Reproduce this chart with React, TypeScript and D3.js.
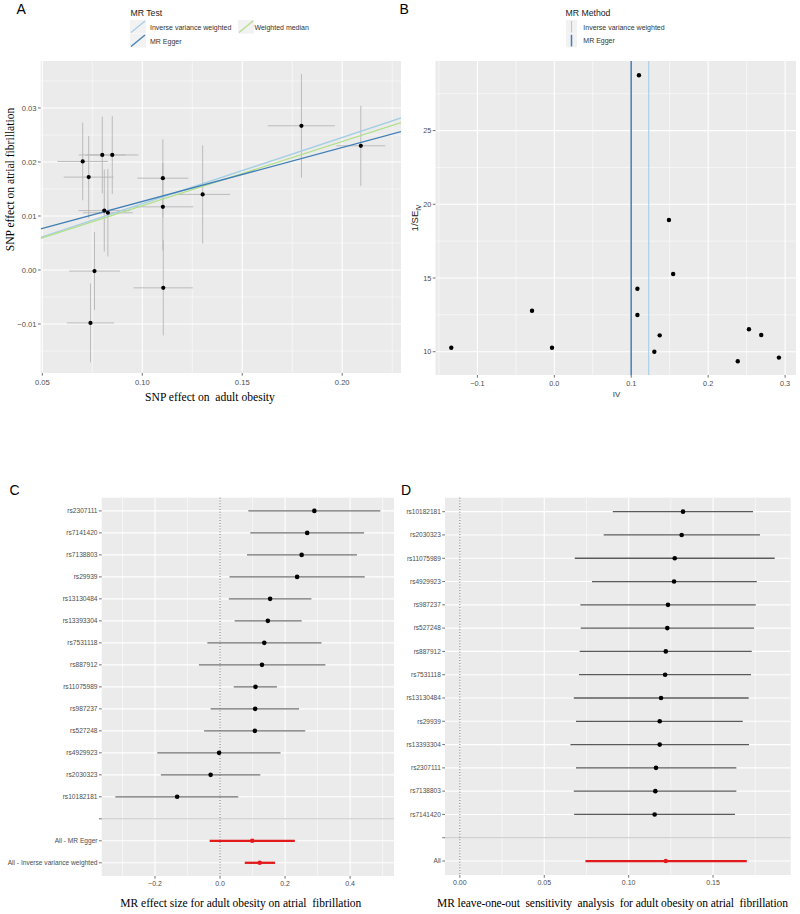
import React from 'react';
import * as d3 from 'd3';

// ---------------- Panel A: scatter (SNP effects) ----------------
const aBetaExp = [0.0702, 0.0732, 0.0800, 0.0850, 0.1103, 0.1302, 0.1796, 0.2093, 0.0810, 0.0828, 0.1103, 0.0761, 0.1105, 0.0741];
const aSeExp = [0.0126, 0.0125, 0.0118, 0.0130, 0.0127, 0.0137, 0.0168, 0.0122, 0.0129, 0.0125, 0.0152, 0.0127, 0.0148, 0.0118];
const aBetaOut = [0.0201, 0.0172, 0.0213, 0.0213, 0.0170, 0.0140, 0.0267, 0.0230, 0.0110, 0.0106, 0.0117, -0.0002, -0.0033, -0.0098];
const aSeOut = [0.0072, 0.0076, 0.0071, 0.0072, 0.0072, 0.0091, 0.0096, 0.0074, 0.0076, 0.0081, 0.0081, 0.0072, 0.0088, 0.0073];
const aMethods = ['Inverse variance weighted', 'MR Egger', 'Weighted median'];
const aSlopes = [0.1227, 0.0999, 0.119];
const aIntercepts = [0, 0.0027, 0];
const aColors = ['#A6CEE3', '#3F7FB6', '#B2DF8A'];
const aXTicks = [0.05, 0.10, 0.15, 0.20];
const aXMinor = [0.075, 0.125, 0.175, 0.225];
const aYTicks = [-0.01, 0.0, 0.01, 0.02, 0.03];
const aYMinor = [-0.015, -0.005, 0.005, 0.015, 0.025, 0.035];

// ---------------- Panel B: funnel ----------------
const bIV = [-0.134, -0.029, -0.003, 0.108, 0.108, 0.130, 0.137, 0.149, 0.1545, 0.2385, 0.253, 0.269, 0.292, 0.110];
const bInvSE = [10.27, 12.78, 10.27, 14.27, 12.49, 10.0, 11.11, 18.93, 15.27, 9.35, 11.52, 11.13, 9.6, 28.75];
const bMethods = ['Inverse variance weighted', 'MR Egger'];
const bEstimates = [0.1227, 0.0999];
const bColors = ['#A6CEE3', '#3F7FB6'];
const bXTicks = [-0.1, 0.0, 0.1, 0.2, 0.3];
const bXMinor = [-0.15, -0.05, 0.05, 0.15, 0.25];
const bYTicks = [10, 15, 20, 25];
const bYMinor = [12.5, 17.5, 22.5, 27.5];

// ---------------- Panel C: forest ----------------
const cSnps = ['rs2307111', 'rs7141420', 'rs7138803', 'rs29939', 'rs13130484', 'rs13393304', 'rs7531118', 'rs887912', 'rs11075989', 'rs987237', 'rs527248', 'rs4929923', 'rs2030323', 'rs10182181'];
const cB = [0.290, 0.268, 0.251, 0.237, 0.154, 0.147, 0.136, 0.129, 0.109, 0.108, 0.107, -0.003, -0.029, -0.132];
const cLo = [0.087, 0.093, 0.083, 0.029, 0.027, 0.045, -0.039, -0.065, 0.042, -0.029, -0.049, -0.193, -0.182, -0.322];
const cHi = [0.493, 0.443, 0.421, 0.445, 0.281, 0.251, 0.312, 0.324, 0.175, 0.243, 0.262, 0.186, 0.124, 0.056];
const cAll = ['All - MR Egger', 'All - Inverse variance weighted'];
const cAllB = [0.099, 0.122];
const cAllLo = [-0.032, 0.076];
const cAllHi = [0.230, 0.169];
const cXTicks = [-0.2, 0.0, 0.2, 0.4];
const cXMinor = [-0.3, -0.1, 0.1, 0.3, 0.5];

// ---------------- Panel D: leave-one-out ----------------
const dSnps = ['rs10182181', 'rs2030323', 'rs11075989', 'rs4929923', 'rs987237', 'rs527248', 'rs887912', 'rs7531118', 'rs13130484', 'rs29939', 'rs13393304', 'rs2307111', 'rs7138803', 'rs7141420'];
const dB = [0.1322, 0.1314, 0.1273, 0.1269, 0.1233, 0.1229, 0.1220, 0.1216, 0.1192, 0.1184, 0.1184, 0.1162, 0.1158, 0.1154];
const dLo = [0.0906, 0.0852, 0.0681, 0.0783, 0.0714, 0.0716, 0.0710, 0.0706, 0.0675, 0.0688, 0.0655, 0.0688, 0.0675, 0.0677];
const dHi = [0.1737, 0.1778, 0.1865, 0.1759, 0.1753, 0.1743, 0.1729, 0.1725, 0.1711, 0.1676, 0.1713, 0.1638, 0.1638, 0.1630];
const dAll = ['All'];
const dAllB = [0.1220];
const dAllLo = [0.0744];
const dAllHi = [0.1700];
const dXTicks = [0.0, 0.05, 0.10, 0.15];
const dXMinor = [0.025, 0.075, 0.125, 0.175];

// ---------------- styles ----------------
const SANS = '"Liberation Sans", Arial, Helvetica, sans-serif';
const SERIF = '"Liberation Serif", "Times New Roman", Times, serif';
const BG = '#EBEBEB';
const TXT = '#4D4D4D';
const TICK = '#333333';

type Box = { l: number; r: number; t: number; b: number };

function Grid({ box, xs, ys, xMajor, xMinor, yMajor, yMinor }: any) {
  return (
    <g>
      <rect x={box.l} y={box.t} width={box.r - box.l} height={box.b - box.t} fill={BG} />
      {xMinor.map((v: number, i: number) => {
        const p = xs(v);
        if (p < box.l || p > box.r) return null;
        return <line key={'xm' + i} x1={p} x2={p} y1={box.t} y2={box.b} stroke="#fff" strokeWidth={0.55} />;
      })}
      {yMinor.map((v: number, i: number) => {
        const p = ys(v);
        if (p < box.t || p > box.b) return null;
        return <line key={'ym' + i} y1={p} y2={p} x1={box.l} x2={box.r} stroke="#fff" strokeWidth={0.55} />;
      })}
      {xMajor.map((v: number, i: number) => (
        <line key={'xM' + i} x1={xs(v)} x2={xs(v)} y1={box.t} y2={box.b} stroke="#fff" strokeWidth={1.1} />
      ))}
      {yMajor.map((v: any, i: number) => (
        <line key={'yM' + i} y1={ys(v)} y2={ys(v)} x1={box.l} x2={box.r} stroke="#fff" strokeWidth={1.1} />
      ))}
    </g>
  );
}

function XAxis({ box, xs, ticks, fmt, size, dy }: any) {
  return (
    <g>
      {ticks.map((v: number, i: number) => (
        <g key={i}>
          <line x1={xs(v)} x2={xs(v)} y1={box.b} y2={box.b + 2.7} stroke={TICK} strokeWidth={0.7} />
          <text x={xs(v)} y={box.b + dy} fontSize={size} fontFamily={SANS} fill={TXT} textAnchor="middle">{fmt(v)}</text>
        </g>
      ))}
    </g>
  );
}

function YAxis({ box, ys, ticks, fmt, size }: any) {
  return (
    <g>
      {ticks.map((v: any, i: number) => (
        <g key={i}>
          <line x1={box.l - 2.7} x2={box.l} y1={ys(v)} y2={ys(v)} stroke={TICK} strokeWidth={0.7} />
          <text x={box.l - 4.2} y={ys(v) + size * 0.35} fontSize={size} fontFamily={SANS} fill={TXT} textAnchor="end">{fmt(v)}</text>
        </g>
      ))}
    </g>
  );
}

function PanelA() {
  const box: Box = { l: 40.7, r: 401, t: 61, b: 373 };
  const xs = d3.scaleLinear().domain([0.0492, 0.2294]).range([box.l, box.r]);
  const ys = d3.scaleLinear().domain([-0.01907, 0.0387]).range([box.b, box.t]);
  const fx = d3.format('.2f');
  const [x0, x1] = xs.domain();
  return (
    <g>
      <Grid box={box} xs={xs} ys={ys} xMajor={aXTicks} xMinor={aXMinor} yMajor={aYTicks} yMinor={aYMinor} />
      <defs>
        <clipPath id="clipA"><rect x={box.l} y={box.t} width={box.r - box.l} height={box.b - box.t} /></clipPath>
      </defs>
      <g clipPath="url(#clipA)">
        {aBetaExp.map((bx, i) => (
          <g key={'eb' + i}>
            <line x1={xs(bx - aSeExp[i])} x2={xs(bx + aSeExp[i])} y1={ys(aBetaOut[i])} y2={ys(aBetaOut[i])} stroke="#B5B5B5" strokeWidth={0.9} />
            <line x1={xs(bx)} x2={xs(bx)} y1={ys(aBetaOut[i] - aSeOut[i])} y2={ys(aBetaOut[i] + aSeOut[i])} stroke="#B5B5B5" strokeWidth={0.9} />
          </g>
        ))}
        {[0, 2, 1].map((m) => (
          <line key={'ab' + m} x1={xs(x0)} x2={xs(x1)} y1={ys(aIntercepts[m] + aSlopes[m] * x0)} y2={ys(aIntercepts[m] + aSlopes[m] * x1)}
            stroke={aColors[m]} strokeWidth={1.3} />
        ))}
        {aBetaExp.map((bx, i) => (
          <circle key={'pt' + i} cx={xs(bx)} cy={ys(aBetaOut[i])} r={2.1} fill="#000" />
        ))}
      </g>
      <XAxis box={box} xs={xs} ticks={aXTicks} fmt={fx} size={7.6} dy={11.8} />
      <YAxis box={box} ys={ys} ticks={aYTicks} fmt={fx} size={7.6} />
      <text x={210} y={401} fontFamily={SERIF} fontSize={11.6} fill="#000" textAnchor="middle" xmlSpace="preserve">SNP effect on  adult obesity</text>
      <text transform="translate(13.5,179.5) rotate(-90)" fontFamily={SERIF} fontSize={11.6} fill="#000" textAnchor="middle">SNP effect on atrial fibrillation</text>
      {/* legend */}
      <text x={130.5} y={15.5} fontFamily={SANS} fontSize={8.7} fill="#222">MR Test</text>
      {[{ m: 0, x: 130, y: 20, tx: 150 }, { m: 2, x: 238, y: 20, tx: 254.5 }, { m: 1, x: 130, y: 34, tx: 150 }].map((k) => (
        <g key={'lg' + k.m}>
          <rect x={k.x} y={k.y} width={16} height={13.5} fill="#F2F2F2" />
          <line x1={k.x + 1} y1={k.y + 12.5} x2={k.x + 15} y2={k.y + 1} stroke={aColors[k.m]} strokeWidth={1.3} />
          <text x={k.tx} y={k.y + 9.5} fontFamily={SANS} fontSize={7} fill="#333">{aMethods[k.m]}</text>
        </g>
      ))}
      <text x={16.5} y={14} fontFamily={SANS} fontSize={14} fill="#000">A</text>
    </g>
  );
}

function PanelB() {
  const box: Box = { l: 435.5, r: 796, t: 61, b: 375 };
  const xs = d3.scaleLinear().domain([-0.1545, 0.3142]).range([box.l, box.r]);
  const ys = d3.scaleLinear().domain([8.42, 29.72]).range([box.b, box.t]);
  return (
    <g>
      <Grid box={box} xs={xs} ys={ys} xMajor={bXTicks} xMinor={bXMinor} yMajor={bYTicks} yMinor={bYMinor} />
      {[1, 0].map((m) => (
        <line key={'vl' + m} x1={xs(bEstimates[m])} x2={xs(bEstimates[m])} y1={box.t} y2={box.b}
          stroke={bColors[m]} strokeWidth={m === 1 ? 1.5 : 1.1} />
      ))}
      {bIV.map((v, i) => (
        <circle key={i} cx={xs(v)} cy={ys(bInvSE[i])} r={2.2} fill="#000" />
      ))}
      <XAxis box={box} xs={xs} ticks={bXTicks} fmt={d3.format('.1f')} size={7.3} dy={10.5} />
      <YAxis box={box} ys={ys} ticks={bYTicks} fmt={(v: number) => String(v)} size={7.3} />
      <text x={616.5} y={397} fontFamily={SANS} fontSize={8} fill="#333" textAnchor="middle">IV</text>
      <text transform="translate(418,218) rotate(-90)" fontFamily={SANS} fontSize={9.5} fill="#222" textAnchor="middle">
        1/SE<tspan fontSize={6.5} dy={2.5}>IV</tspan>
      </text>
      {/* legend */}
      <text x={565.5} y={15.5} fontFamily={SANS} fontSize={8.7} fill="#222">MR Method</text>
      {[0, 1].map((m) => (
        <g key={'lgb' + m}>
          <rect x={566} y={20 + m * 13.8} width={11} height={13.6} fill="#F2F2F2" />
          <line x1={571.5} x2={571.5} y1={21 + m * 13.8} y2={32.6 + m * 13.8} stroke={bColors[m]} strokeWidth={m === 1 ? 1.5 : 1.1} />
          <text x={583.3} y={29.5 + m * 13.8} fontFamily={SANS} fontSize={7} fill="#333">{bMethods[m]}</text>
        </g>
      ))}
      <text x={399.5} y={14} fontFamily={SANS} fontSize={14} fill="#000">B</text>
    </g>
  );
}

function Forest({ box, domain, snps, b, lo, hi, all, allB, allLo, allHi, ticks, minor, fmt, labelSize, lineCol, title, titleX, titleLen, letter, letterX }: any) {
  const cats = [...snps, '__blank__', ...all];
  const xs = d3.scaleLinear().domain(domain).range([box.l, box.r]);
  const ys = d3.scalePoint<string>().domain(cats).range([box.t, box.b]).padding(0.6);
  return (
    <g>
      <Grid box={box} xs={xs} ys={ys} xMajor={ticks} xMinor={minor} yMajor={cats} yMinor={[]} />
      <line x1={box.l} x2={box.r} y1={ys('__blank__')} y2={ys('__blank__')} stroke="#C4C4C4" strokeWidth={1} />
      <line x1={xs(0)} x2={xs(0)} y1={box.t} y2={box.b} stroke="#555" strokeWidth={0.9} strokeDasharray="1,1.8" />
      {snps.map((s: string, i: number) => (
        <g key={s}>
          <line x1={xs(lo[i])} x2={xs(hi[i])} y1={ys(s)} y2={ys(s)} stroke={lineCol} strokeWidth={1.3} />
          <circle cx={xs(b[i])} cy={ys(s)} r={2.3} fill="#000" />
        </g>
      ))}
      {all.map((s: string, i: number) => (
        <g key={s}>
          <line x1={xs(allLo[i])} x2={xs(allHi[i])} y1={ys(s)} y2={ys(s)} stroke="#E31A1C" strokeWidth={2.3} />
          <circle cx={xs(allB[i])} cy={ys(s)} r={2.3} fill="#E31A1C" />
        </g>
      ))}
      {cats.map((c: string) => (
        <g key={'yl' + c}>
          <line x1={box.l - 2.7} x2={box.l} y1={ys(c)} y2={ys(c)} stroke={TICK} strokeWidth={0.7} />
          {c !== '__blank__' && (
            <text x={box.l - 4.2} y={(ys(c) as number) + labelSize * 0.35} fontSize={labelSize} fontFamily={SANS} fill={TXT} textAnchor="end">{c}</text>
          )}
        </g>
      ))}
      <XAxis box={box} xs={xs} ticks={ticks} fmt={fmt} size={7} dy={9.5} />
      <text x={titleX} y={907} fontFamily={SERIF} fontSize={11.5} fill="#000" textAnchor="middle" xmlSpace="preserve"
        textLength={titleLen} lengthAdjust="spacing">{title}</text>
      <text x={letterX} y={495} fontFamily={SANS} fontSize={14} fill="#000">{letter}</text>
    </g>
  );
}

export default function App() {
  return (
    <svg width={800} height={914} viewBox="0 0 800 914" style={{ position: 'absolute', left: 0, top: 0, background: '#fff' }}>
      <rect x={0} y={0} width={800} height={914} fill="#fff" />
      <PanelA />
      <PanelB />
      <Forest box={{ l: 101.7, r: 394, t: 497.7, b: 876 }} domain={[-0.364, 0.535]} snps={cSnps} b={cB} lo={cLo} hi={cHi}
        all={cAll} allB={cAllB} allLo={cAllLo} allHi={cAllHi} ticks={cXTicks} minor={cXMinor} fmt={d3.format('.1f')}
        labelSize={6.6} lineCol="#707070" title="MR effect size for adult obesity on atrial  fibrillation" titleX={240.8} titleLen={241}
        letter="C" letterX={9.5} />
      <Forest box={{ l: 445, r: 790.7, t: 497.7, b: 875 }} domain={[-0.0088, 0.1960]} snps={dSnps} b={dB} lo={dLo} hi={dHi}
        all={dAll} allB={dAllB} allLo={dAllLo} allHi={dAllHi} ticks={dXTicks} minor={dXMinor} fmt={d3.format('.2f')}
        labelSize={6.5} lineCol="#5A5A5A" title="MR leave-one-out  sensitivity  analysis  for adult obesity on atrial  fibrillation" titleX={612.5} titleLen={351}
        letter="D" letterX={401} />
    </svg>
  );
}
